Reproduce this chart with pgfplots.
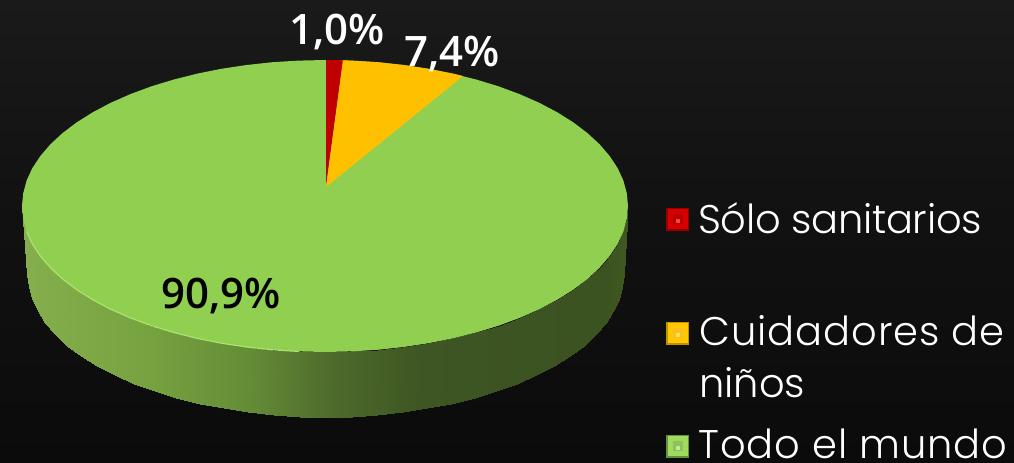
\documentclass[border=0pt]{standalone}
\usepackage{fontspec}
\usepackage{pgfplots}
\pgfplotsset{compat=1.18}
\newfontfamily\legendfont{Poppins}[UprightFont={* Light}]
\newfontfamily\labelfont{Open Sans}[UprightFont={* Semibold}]
\definecolor{topgreen}{RGB}{145,207,80}
\definecolor{rimgreen}{RGB}{172,226,112}
\definecolor{slicered}{RGB}{192,0,0}
\definecolor{sliceorange}{RGB}{255,192,0}
\pgfplotsset{
  colormap={bgmap}{rgb255(0)=(26,26,26); rgb255(190)=(18,18,18); rgb255(462)=(11,11,11)},
  colormap={wallmap}{rgb255(22)=(133,175,76); rgb255(150)=(118,162,63); rgb255(250)=(100,140,55);
    rgb255(330)=(78,107,44); rgb255(420)=(62,86,35); rgb255(600)=(59,82,33); rgb255(628)=(64,88,32)},
  keymark/.style={only marks, mark=square*, mark size=#1},
}
\begin{document}
\begin{tikzpicture}
\begin{axis}[
  scale only axis,
  width=760.5pt, height=346.5pt,
  xmin=0, xmax=1014, ymin=0, ymax=462,
  y dir=reverse,
  hide axis,
  at={(0,0)},
]
% background
\addplot[surf, shader=interp, colormap name=bgmap, point meta=y, point meta rel=per plot, mesh/rows=2]
coordinates {
(0,0) (1014,0)
(0,462) (1014,462)
};
% side wall
\addplot[surf, shader=interp, colormap name=wallmap, point meta=x, point meta rel=per plot, mesh/rows=2]
coordinates {
(22,206) (23.2,218.7) (26.6,231.4) (32.3,243.8) (40.3,255.9) (50.4,267.7) (62.6,279) (76.8,289.7) (92.9,299.8) (110.7,309.2) (130.2,317.8) (151.2,325.6) (173.5,332.4) (196.9,338.3) (221.4,343.2) (246.6,347) (272.4,349.8) (298.6,351.4) (325,352) (351.4,351.4) (377.6,349.8) (403.4,347) (428.6,343.2) (453.1,338.3) (476.5,332.4) (498.8,325.6) (519.8,317.8) (539.3,309.2) (557.1,299.8) (573.2,289.7) (587.4,279) (599.6,267.7) (609.7,255.9) (617.7,243.8) (623.4,231.4) (626.8,218.7) (628,206)
(27.5,274) (28.6,286.5) (32,298.8) (37.7,311) (45.5,322.9) (55.4,334.4) (67.4,345.5) (81.4,356) (97.2,365.9) (114.8,375.1) (133.9,383.5) (154.6,391.1) (176.5,397.8) (199.6,403.6) (223.6,408.4) (248.4,412.1) (273.8,414.8) (299.5,416.5) (325.5,417) (351.5,416.5) (377.2,414.8) (402.6,412.1) (427.4,408.4) (451.4,403.6) (474.5,397.8) (496.4,391.1) (517.1,383.5) (536.2,375.1) (553.8,365.9) (569.6,356) (583.6,345.5) (595.6,334.4) (605.5,322.9) (613.3,311) (619,298.8) (622.4,286.5) (623.5,274)
};
% green top
\addplot[draw=none, fill=topgreen] coordinates {
(628,206) (626.8,218.7) (623.4,231.4) (617.7,243.8) (609.7,255.9) (599.6,267.7) (587.4,279) (573.2,289.7) (557.1,299.8) (539.3,309.2) (519.8,317.8) (498.8,325.6) (476.5,332.4) (453.1,338.3) (428.6,343.2) (403.4,347) (377.6,349.8) (351.4,351.4) (325,352)
(298.6,351.4) (272.4,349.8) (246.6,347) (221.4,343.2) (196.9,338.3) (173.5,332.4) (151.2,325.6) (130.2,317.8) (110.7,309.2) (92.9,299.8) (76.8,289.7) (62.6,279) (50.4,267.7) (40.3,255.9) (32.3,243.8) (26.6,231.4) (23.2,218.7) (22,206)
(23.2,193.3) (26.6,180.6) (32.3,168.2) (40.3,156.1) (50.4,144.3) (62.6,133) (76.8,122.3) (92.9,112.2) (110.7,102.8) (130.2,94.2) (151.2,86.4) (173.5,79.6) (196.9,73.7) (221.4,68.8) (246.6,65) (272.4,62.2) (298.6,60.6) (325,60)
(351.4,60.6) (377.6,62.2) (403.4,65) (428.6,68.8) (453.1,73.7) (476.5,79.6) (498.8,86.4) (519.8,94.2) (539.3,102.8) (557.1,112.2) (573.2,122.3) (587.4,133) (599.6,144.3) (609.7,156.1) (617.7,168.2) (623.4,180.6) (626.8,193.3)
} -- cycle;
% lit rim, front left
\addplot[rimgreen, line width=0.9pt, no marks] coordinates {
(298.6,351.4) (272.4,349.8) (246.6,347) (221.4,343.2) (196.9,338.3) (173.5,332.4) (151.2,325.6) (130.2,317.8) (110.7,309.2) (92.9,299.8) (76.8,289.7) (62.6,279) (50.4,267.7) (40.3,255.9) (32.3,243.8) (26.6,231.4)
};
% slices
\addplot[draw=none, fill=slicered] coordinates {
(326,187) (326,60) (335,60.1) (343,60.3)
} -- cycle;
\addplot[draw=none, fill=sliceorange] coordinates {
(326,187) (343,60.3) (351.4,60.6) (377.6,62.2) (403.4,65) (428.6,68.8) (453.1,73.7) (463,76)
} -- cycle;
% legend keys
\addplot[keymark=8.4pt, mark options={draw={rgb,255:red,150;green,0;blue,0}, fill={rgb,255:red,150;green,0;blue,0}}] coordinates {(677.5,219)};
\addplot[keymark=7pt, mark options={draw={rgb,255:red,214;green,0;blue,0}, fill={rgb,255:red,214;green,0;blue,0}}] coordinates {(677.5,218.5)};
\addplot[keymark=3.2pt, mark options={draw={rgb,255:red,185;green,0;blue,0}, fill={rgb,255:red,185;green,0;blue,0}}] coordinates {(677.5,219)};
\addplot[keymark=1.2pt, mark options={draw={rgb,255:red,240;green,70;blue,70}, fill={rgb,255:red,240;green,70;blue,70}}] coordinates {(677.5,221)};
\addplot[keymark=8.4pt, mark options={draw={rgb,255:red,190;green,145;blue,0}, fill={rgb,255:red,190;green,145;blue,0}}] coordinates {(677.5,333)};
\addplot[keymark=7pt, mark options={draw={rgb,255:red,255;green,200;blue,0}, fill={rgb,255:red,255;green,200;blue,0}}] coordinates {(677.5,332.5)};
\addplot[keymark=3.2pt, mark options={draw={rgb,255:red,250;green,190;blue,30}, fill={rgb,255:red,250;green,190;blue,30}}] coordinates {(677.5,333)};
\addplot[keymark=1.2pt, mark options={draw={rgb,255:red,255;green,225;blue,90}, fill={rgb,255:red,255;green,225;blue,90}}] coordinates {(677.5,335)};
\addplot[keymark=8.4pt, mark options={draw={rgb,255:red,100;green,145;blue,60}, fill={rgb,255:red,100;green,145;blue,60}}] coordinates {(677.5,446)};
\addplot[keymark=7pt, mark options={draw={rgb,255:red,160;green,218;blue,95}, fill={rgb,255:red,160;green,218;blue,95}}] coordinates {(677.5,445.5)};
\addplot[keymark=3.2pt, mark options={draw={rgb,255:red,140;green,195;blue,90}, fill={rgb,255:red,140;green,195;blue,90}}] coordinates {(677.5,446)};
\addplot[keymark=1.2pt, mark options={draw={rgb,255:red,190;green,235;blue,150}, fill={rgb,255:red,190;green,235;blue,150}}] coordinates {(677.5,448)};
% labels
\node[anchor=base west, inner sep=0pt, text=white, font=\labelfont\fontsize{31.5}{32}\selectfont] at (axis cs:289.5,44) {1,0\%};
\node[anchor=base west, inner sep=0pt, text=white, font=\labelfont\fontsize{31.5}{32}\selectfont] at (axis cs:404,66) {7,4\%};
\node[anchor=base west, inner sep=0pt, text=black, font=\labelfont\fontsize{31.5}{32}\selectfont] at (axis cs:161.5,308) {90,9\%};
\node[anchor=base west, inner sep=0pt, text=white, font=\legendfont\fontsize{30}{30}\selectfont\addfontfeature{LetterSpace=-0.7}] at (axis cs:698,233) {Sólo sanitarios};
\node[anchor=base west, inner sep=0pt, text=white, font=\legendfont\fontsize{30}{30}\selectfont\addfontfeature{LetterSpace=2.5}] at (axis cs:699,345) {Cuidadores de};
\node[anchor=base west, inner sep=0pt, text=white, font=\legendfont\fontsize{30}{30}\selectfont] at (axis cs:699,397) {niños};
\node[anchor=base west, inner sep=0pt, text=white, font=\legendfont\fontsize{30}{30}\selectfont\addfontfeature{LetterSpace=2.5}] at (axis cs:698,458) {Todo el mundo};
\end{axis}
\end{tikzpicture}
\end{document}
